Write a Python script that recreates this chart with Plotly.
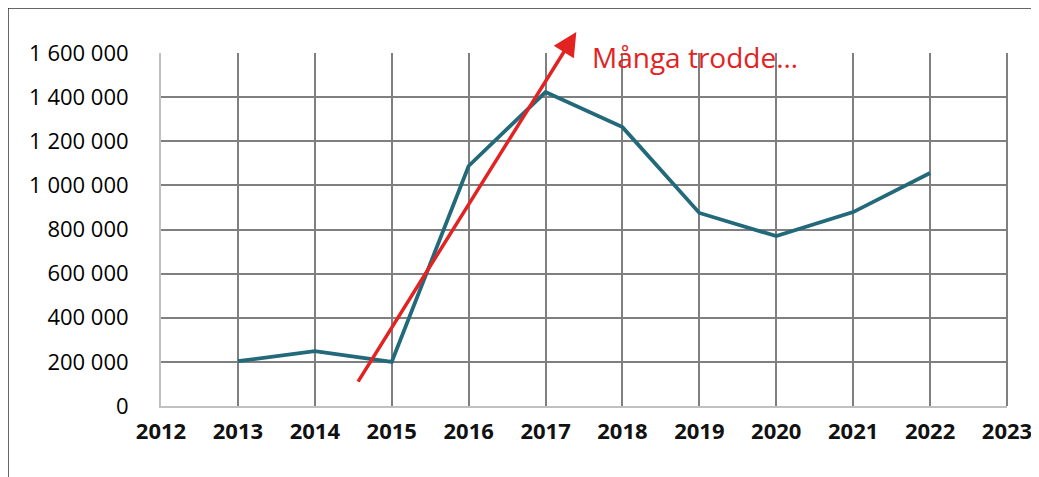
import plotly.graph_objects as go

years = [2013, 2014, 2015, 2016, 2017, 2018, 2019, 2020, 2021, 2022]
values = [203000, 249000, 200000, 1088000, 1423000, 1264000, 875000, 770000, 879000, 1056000]

y_ticks = [0, 200000, 400000, 600000, 800000, 1000000, 1200000, 1400000, 1600000]
x_ticks = list(range(2012, 2024))

# arrow "många trodde": tail and tip
arrow_x = [2014.55, 2017.40]
arrow_y = [104000, 1695000]
note = "Många trodde…"

fig = go.Figure()

fig.add_trace(go.Scatter(x=years, y=values, mode="lines",
                         line=dict(color="#22697a", width=3.8),
                         hoverinfo="skip", showlegend=False))

fig.add_annotation(x=arrow_x[1], y=arrow_y[1], ax=arrow_x[0], ay=arrow_y[0],
                   xref="x", yref="y", axref="x", ayref="y",
                   text="", showarrow=True, arrowhead=2, arrowsize=1.35,
                   arrowwidth=3.5, arrowcolor="#e32222")

fig.add_annotation(x=2017.58, y=1582000, xref="x", yref="y",
                   text=note, showarrow=False, xanchor="left", yanchor="middle",
                   font=dict(family="Open Sans", size=28, color="#e32222"))

L, R, T, B = 153, 32, 45, 71
W, H = 1031, 469
pw, ph = W - L - R, H - T - B

# outer frame (left and top edges)
fig.add_shape(type="line", xref="paper", yref="paper", x0=-L / pw, x1=-L / pw,
              y0=-B / ph - 0.05, y1=1 + T / ph, line=dict(color="#333333", width=1.5))
fig.add_shape(type="line", xref="paper", yref="paper", x0=-L / pw, x1=1 + R / pw + 0.05,
              y0=1 + T / ph, y1=1 + T / ph, line=dict(color="#333333", width=1.5))

fig.update_layout(
    width=W, height=H,
    margin=dict(l=L, r=R, t=T, b=B, autoexpand=False),
    paper_bgcolor="white", plot_bgcolor="white",
    separators=", ",
    font=dict(family="Open Sans", color="#111111"),
)

fig.update_xaxes(range=[2012, 2023], tickvals=x_ticks,
                 ticktext=["<b>%d</b>" % y for y in x_ticks],
                 showgrid=True, gridcolor="#7f7f7f", gridwidth=2,
                 showline=True, linecolor="#c0c0c0", linewidth=2,
                 zeroline=False, ticks="", ticklabelstandoff=5, automargin=False,
                 tickfont=dict(size=22, family="Open Sans"))

fig.update_yaxes(range=[0, 1600000], tickvals=y_ticks, tickformat=",d",
                 showgrid=True, gridcolor="#7f7f7f", gridwidth=2,
                 showline=True, linecolor="#c0c0c0", linewidth=2,
                 mirror=False, zeroline=False, ticks="", ticklabelstandoff=26,
                 automargin=False,
                 tickfont=dict(size=22, family="Open Sans", weight=500, color="#000000"))

# right edge of the plot
fig.add_shape(type="line", xref="paper", yref="paper", x0=1, x1=1, y0=0, y1=1,
              line=dict(color="#7f7f7f", width=2))

fig.write_html("out.html")
